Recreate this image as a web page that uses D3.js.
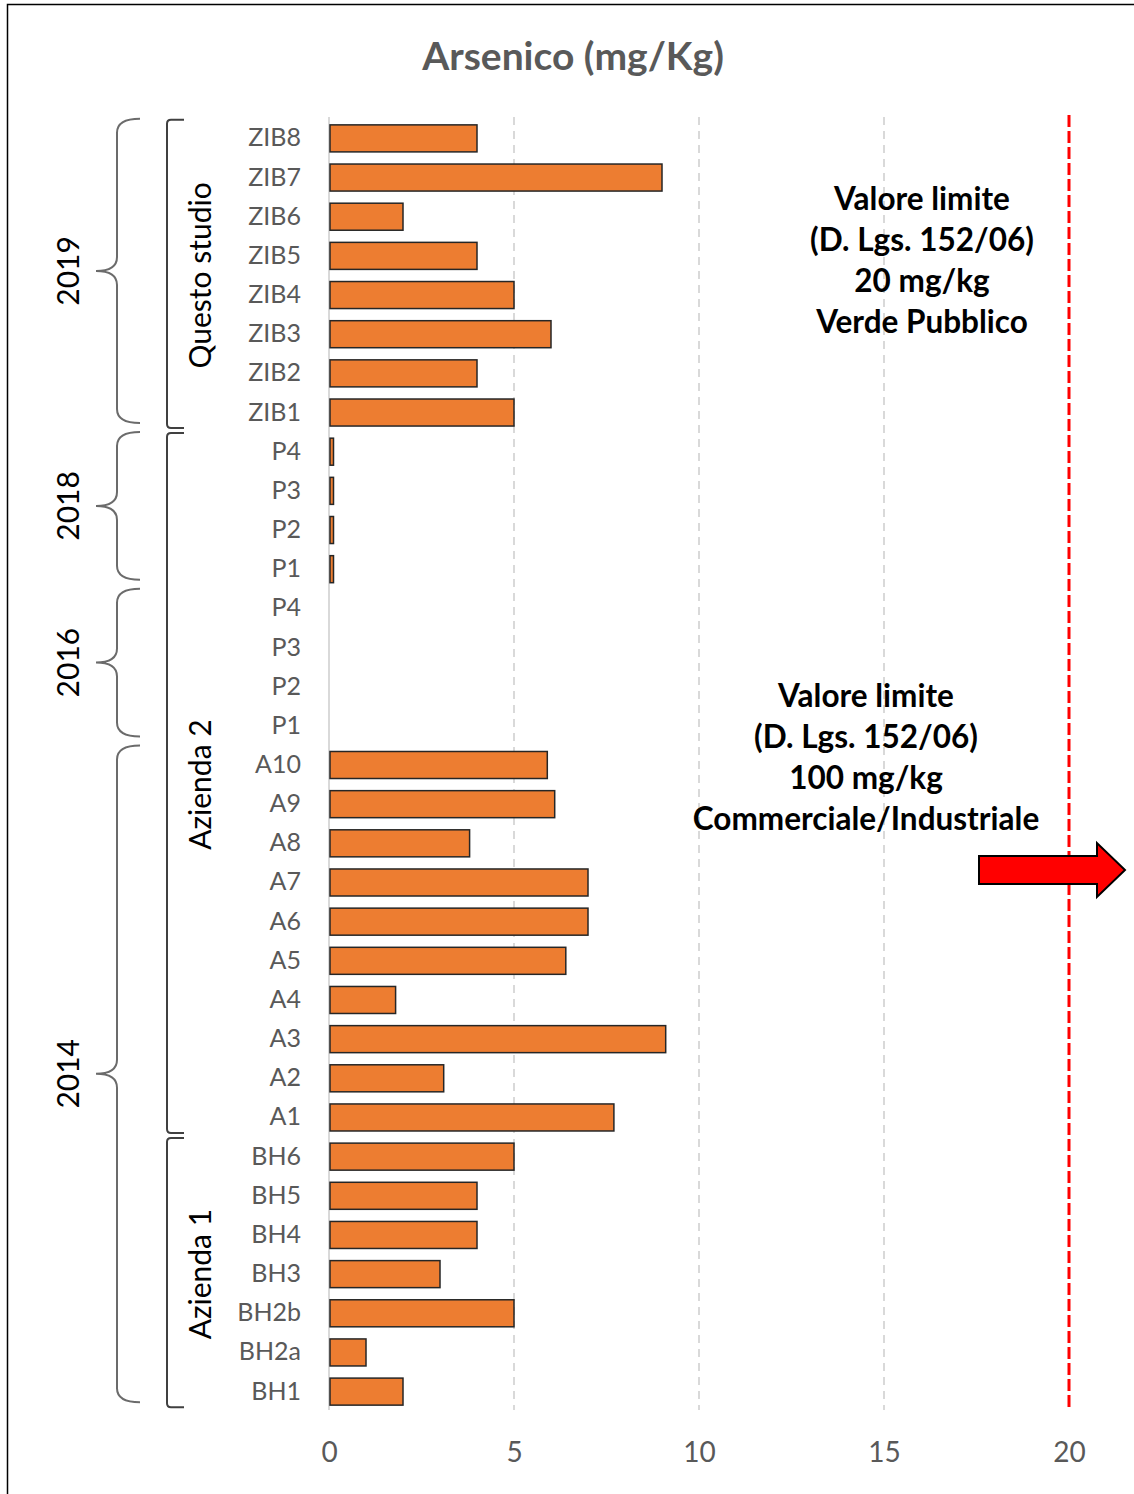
<!DOCTYPE html>
<html>
<head>
<meta charset="utf-8">
<script src="https://cdn.jsdelivr.net/npm/d3@7"></script>
<style>
  body { margin: 0; background: #fff; }
  svg { display: block; font-family: Lato, "Open Sans", sans-serif; }
</style>
</head>
<body>
<div id="chart"></div>
<script>
const samples = ['ZIB8', 'ZIB7', 'ZIB6', 'ZIB5', 'ZIB4', 'ZIB3', 'ZIB2', 'ZIB1',
  'P4', 'P3', 'P2', 'P1',
  'P4', 'P3', 'P2', 'P1',
  'A10', 'A9', 'A8', 'A7', 'A6', 'A5', 'A4', 'A3', 'A2', 'A1',
  'BH6', 'BH5', 'BH4', 'BH3', 'BH2b', 'BH2a', 'BH1'];
const arsenic = [4, 9, 2, 4, 5, 6, 4, 5,
  0.1, 0.1, 0.1, 0.1,
  null, null, null, null,
  5.9, 6.1, 3.8, 7, 7, 6.4, 1.8, 9.1, 3.1, 7.7,
  5, 4, 4, 3, 5, 1, 2];
const xTicks = [0, 5, 10, 15, 20];
const limit = 20;

// year braces and group brackets, as [label, first row, last row]
const years = [['2019', 0, 7], ['2018', 8, 11], ['2016', 12, 15], ['2014', 16, 32]];
const groups = [['Questo studio', 0, 7], ['Azienda 2', 8, 25], ['Azienda 1', 26, 32]];

const note1 = ['Valore limite', '(D. Lgs. 152/06)', '20 mg/kg', 'Verde Pubblico'];
const note2 = ['Valore limite', '(D. Lgs. 152/06)', '100 mg/kg', 'Commerciale/Industriale'];

const width = 1134, height = 1494;

const svg = d3.select('#chart').append('svg')
  .attr('width', width)
  .attr('height', height);

// frame (right and bottom edges run off the picture)
svg.append('rect')
  .attr('x', 7.5).attr('y', 4.5)
  .attr('width', 1140).attr('height', 1500)
  .attr('fill', 'none').attr('stroke', '#000').attr('stroke-width', 1.5);

const x = d3.scaleLinear().domain([0, 20]).range([329, 1069]);
const y = d3.scaleBand()
  .domain(d3.range(samples.length))
  .range([119, 1411])
  .paddingInner(0.31)
  .paddingOuter(0.15);
const step = y.step();
const rowTop = i => y(i) - y.paddingInner() * step / 2;
const rowBot = i => rowTop(i) + step;

svg.append('text')
  .attr('x', 573).attr('y', 70)
  .attr('text-anchor', 'middle')
  .attr('fill', '#595959')
  .style('font-size', '39px').style('font-weight', 'bold')
  .text('Arsenico (mg/Kg)');

// gridlines
svg.append('g').selectAll('line')
  .data(xTicks.filter(d => d > 0 && d < limit))
  .join('line')
  .attr('x1', d => x(d)).attr('x2', d => x(d))
  .attr('y1', 117).attr('y2', 1410)
  .attr('stroke', '#d9d9d9').attr('stroke-width', 2)
  .attr('stroke-dasharray', '8,6');

// x axis
const xAxis = svg.append('g')
  .attr('transform', 'translate(0,1442)')
  .call(d3.axisBottom(x).tickValues(xTicks).tickSize(0).tickPadding(0));
xAxis.select('.domain').remove();
xAxis.selectAll('text')
  .attr('dy', '0.71em')
  .attr('fill', '#595959')
  .style('font-size', '28px')
  .style('font-family', 'Lato, sans-serif');

// category axis
const yAxis = svg.append('g')
  .attr('transform', 'translate(329,0)')
  .call(d3.axisLeft(y).tickFormat(i => samples[i]).tickSize(0).tickPadding(28));
yAxis.select('.domain')
  .attr('stroke', '#d9d9d9').attr('stroke-width', 2)
  .attr('d', 'M0,117V1410');
yAxis.selectAll('text')
  .attr('fill', '#595959')
  .style('font-size', '25px')
  .style('font-family', 'Lato, sans-serif');

// bars
svg.append('g').selectAll('rect')
  .data(arsenic.map((v, i) => ({ v, i })).filter(d => d.v != null))
  .join('rect')
  .attr('x', x(0) + 1)
  .attr('y', d => y(d.i))
  .attr('width', d => Math.max(x(d.v) - x(0) - 1, 3.5))
  .attr('height', y.bandwidth())
  .attr('fill', '#ED7D31')
  .attr('stroke', '#262626')
  .attr('stroke-width', 1.5);

// limit line
svg.append('line')
  .attr('x1', x(limit)).attr('x2', x(limit))
  .attr('y1', 115).attr('y2', 1410)
  .attr('stroke', '#ff0000').attr('stroke-width', 3)
  .attr('stroke-dasharray', '12,4');

// year braces
const braceX = 117, tipX = 96, endX = 140, r = 14;
const yearG = svg.append('g').selectAll('g').data(years).join('g');
yearG.append('path')
  .attr('fill', 'none').attr('stroke', '#6b6b6b').attr('stroke-width', 2)
  .attr('d', d => {
    const t = rowTop(d[1]) + 0, b = rowBot(d[2]) - 9, m = (t + b) / 2;
    return `M${endX},${t}Q${braceX},${t} ${braceX},${t + r}L${braceX},${m - r}` +
      `Q${braceX},${m} ${tipX},${m}Q${braceX},${m} ${braceX},${m + r}` +
      `L${braceX},${b - r}Q${braceX},${b} ${endX},${b}`;
  });
yearG.append('text')
  .attr('transform', d => `translate(79,${(rowTop(d[1]) + rowBot(d[2]) - 9) / 2}) rotate(-90)`)
  .attr('text-anchor', 'middle')
  .attr('fill', '#000')
  .style('font-size', '30px')
  .text(d => d[0]);

// group brackets
const groupG = svg.append('g').selectAll('g').data(groups).join('g');
groupG.append('path')
  .attr('fill', 'none').attr('stroke', '#404040').attr('stroke-width', 2)
  .attr('d', d => {
    const t = rowTop(d[1]) + 1, b = rowBot(d[2]) - 4;
    return `M184,${t}L171,${t}Q167,${t} 167,${t + 4}L167,${b - 4}Q167,${b} 171,${b}L184,${b}`;
  });
groupG.append('text')
  .attr('transform', d => `translate(211,${(rowTop(d[1]) + rowBot(d[2])) / 2}) rotate(-90)`)
  .attr('text-anchor', 'middle')
  .attr('fill', '#000')
  .style('font-size', '30px')
  .text(d => d[0]);

// notes
function note(lines, cx, top) {
  svg.append('g').selectAll('text')
    .data(lines)
    .join('text')
    .attr('x', cx)
    .attr('y', (d, i) => top + i * 41)
    .attr('text-anchor', 'middle')
    .attr('fill', '#000')
    .style('font-size', '31.5px').style('font-weight', 'bold')
    .text(d => d);
}
note(note1, 922, 210);
note(note2, 866, 707);

// arrow to the right
const ay = 870;
svg.append('path')
  .attr('fill', '#ff0000').attr('stroke', '#000').attr('stroke-width', 2)
  .attr('d', `M979,${ay - 14}H1097V${ay - 27}L1125,${ay}L1097,${ay + 27}V${ay + 14}H979Z`);
</script>
</body>
</html>
